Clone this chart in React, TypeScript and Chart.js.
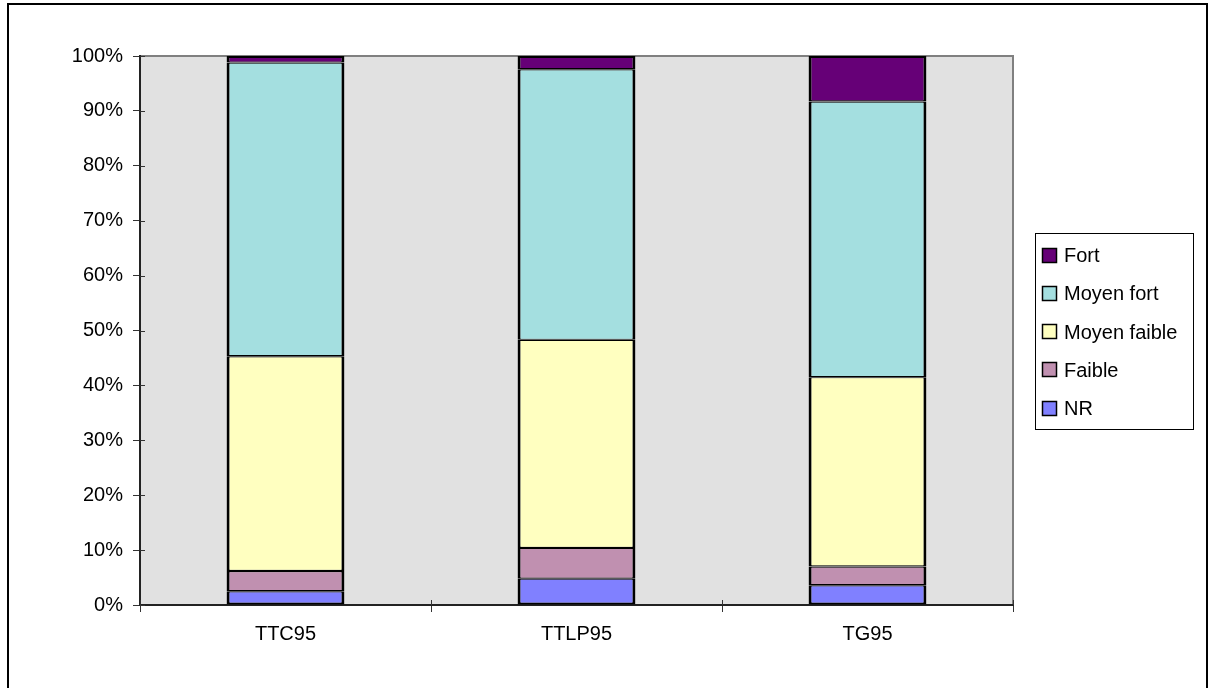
import React, { useEffect, useRef } from 'react';
import { Chart, registerables } from 'chart.js';

Chart.register(...registerables);

const categories = ['TTC95', 'TTLP95', 'TG95'];
const nrValues = [2.5, 4.8, 3.6];
const faibleValues = [3.7, 5.6, 3.4];
const moyenFaibleValues = [39.1, 37.9, 34.5];
const moyenFortValues = [53.5, 49.3, 50.2];
const fortValues = [1.2, 2.4, 8.3];

const seriesLabels = ['NR', 'Faible', 'Moyen faible', 'Moyen fort', 'Fort'];
const seriesColors = ['#8080FF', '#C090B0', '#FFFFC0', '#A4DFE0', '#660077'];
const yTickValues = [0, 10, 20, 30, 40, 50, 60, 70, 80, 90, 100];

const FONT = 'Liberation Sans, Arial, sans-serif';

const framePlugin = {
  id: 'framePlugin',
  beforeDraw(chart: any) {
    const { ctx, chartArea } = chart;
    ctx.save();
    ctx.fillStyle = '#FFFFFF';
    ctx.fillRect(0, 0, chart.width, chart.height);
    ctx.fillStyle = '#E1E1E1';
    ctx.fillRect(chartArea.left, chartArea.top, chartArea.right - chartArea.left, chartArea.bottom - chartArea.top);
    ctx.strokeStyle = '#000000';
    ctx.lineWidth = 2;
    ctx.strokeRect(8, 4, 1199, 720);
    ctx.strokeStyle = '#808080';
    ctx.lineWidth = 2;
    ctx.beginPath();
    ctx.moveTo(chartArea.left, chartArea.top);
    ctx.lineTo(chartArea.right, chartArea.top);
    ctx.lineTo(chartArea.right, chartArea.bottom);
    ctx.stroke();
    ctx.restore();
  },
  afterDraw(chart: any) {
    const { ctx, chartArea } = chart;
    ctx.save();
    ctx.strokeStyle = '#333333';
    ctx.lineWidth = 1;
    const y = chart.scales.y;
    yTickValues.forEach((v) => {
      const py = Math.round(y.getPixelForValue(v)) + 0.5;
      ctx.beginPath();
      ctx.moveTo(chartArea.left, py);
      ctx.lineTo(chartArea.left + 5, py);
      ctx.stroke();
    });
    const step = (chartArea.right - chartArea.left) / categories.length;
    for (let i = 0; i <= categories.length; i++) {
      const px = Math.round(chartArea.left + i * step) + 0.5;
      ctx.beginPath();
      ctx.moveTo(px, chartArea.bottom);
      ctx.lineTo(px, chartArea.bottom - 5);
      ctx.stroke();
    }
    // legend
    const bx = 1035.5, by = 233.5, bw = 158, bh = 196;
    ctx.fillStyle = '#FFFFFF';
    ctx.fillRect(bx, by, bw, bh);
    ctx.strokeStyle = '#000000';
    ctx.lineWidth = 1;
    ctx.strokeRect(bx, by, bw, bh);
    const ds = chart.data.datasets.slice().reverse();
    ctx.font = '20px ' + FONT;
    ctx.textBaseline = 'middle';
    ctx.textAlign = 'left';
    ds.forEach((d: any, i: number) => {
      const cy = 255.5 + i * 38.3;
      ctx.fillStyle = d.backgroundColor;
      ctx.fillRect(1043, Math.round(cy - 7), 13, 13);
      ctx.strokeStyle = '#000000';
      ctx.lineWidth = 1.5;
      ctx.strokeRect(1042.5, Math.round(cy - 7) - 0.5, 14, 14);
      ctx.fillStyle = '#000000';
      ctx.fillText(d.label, 1064, cy + 1);
    });
    ctx.restore();
  },
};

export default function App() {
  const canvasRef = useRef<HTMLCanvasElement>(null);

  useEffect(() => {
    const values = [nrValues, faibleValues, moyenFaibleValues, moyenFortValues, fortValues];
    const last = values.length - 1;
    const datasets = values.map((data, i) => ({
      label: seriesLabels[i],
      data,
      backgroundColor: seriesColors[i],
      borderColor: '#000000',
      borderWidth: { left: 3, right: 3, top: i === last ? 2 : 1.2, bottom: i === 0 ? 2 : 1.2 },
      borderSkipped: false,
      inflateAmount: 0,
      barPercentage: 0.405,
      categoryPercentage: 1,
    }));

    const chart = new Chart(canvasRef.current as HTMLCanvasElement, {
      type: 'bar',
      data: { labels: categories, datasets },
      options: {
        animation: false,
        responsive: false,
        maintainAspectRatio: false,
        layout: { padding: { left: 0, right: 197, top: 56, bottom: 0 } },
        plugins: { legend: { display: false }, tooltip: { enabled: false }, title: { display: false } },
        scales: {
          x: {
            stacked: true,
            offset: true,
            grid: { offset: true, drawOnChartArea: false, tickLength: 7, color: '#333333', lineWidth: 1 },
            border: { color: '#222222', width: 2 },
            ticks: { color: '#000000', font: { family: FONT, size: 20 }, padding: 10 },
            afterFit: (s: any) => { s.height = 83; },
          },
          y: {
            stacked: true,
            min: 0,
            max: 100,
            grid: { drawOnChartArea: false, tickLength: 7, color: '#333333', lineWidth: 1 },
            border: { color: '#222222', width: 2 },
            afterBuildTicks: (s: any) => { s.ticks = yTickValues.map((v) => ({ value: v })); },
            ticks: {
              color: '#000000',
              font: { family: FONT, size: 20 },
              padding: 10,
              callback: (v: any) => v + '%',
            },
            afterFit: (s: any) => { s.width = 140; },
          },
        },
      },
      plugins: [framePlugin],
    });
    return () => chart.destroy();
  }, []);

  return (
    <div style={{ position: 'absolute', left: 0, top: 0, width: 1210, height: 688 }}>
      <canvas ref={canvasRef} width={1210} height={688} style={{ display: 'block' }} />
    </div>
  );
}
